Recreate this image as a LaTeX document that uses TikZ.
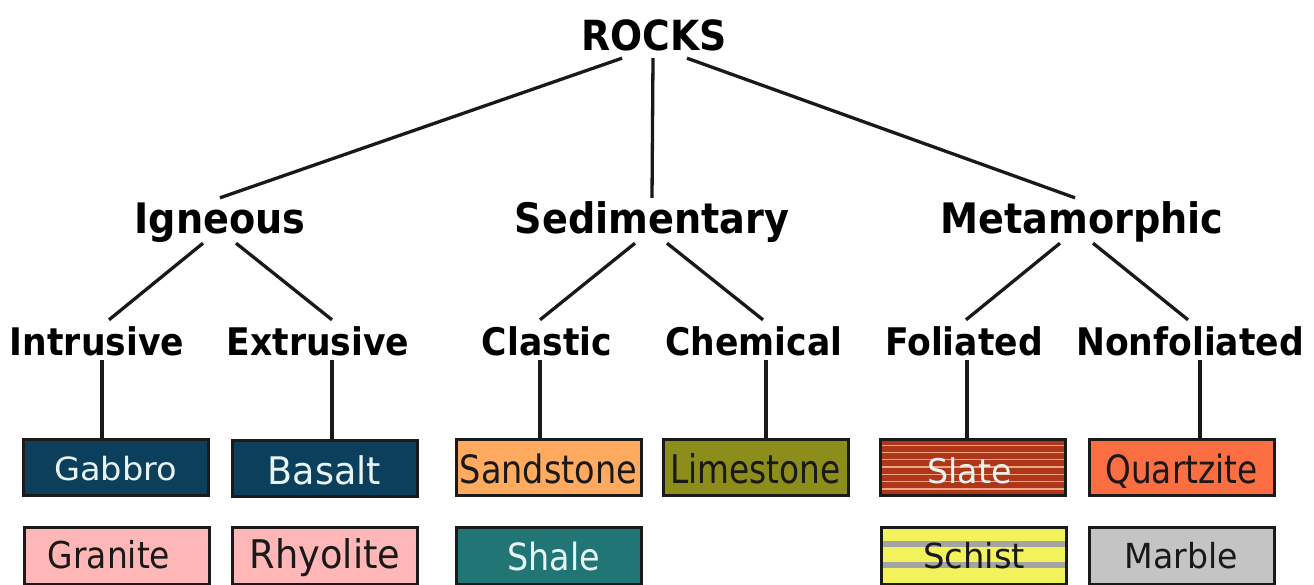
\documentclass[tikz,border=0pt]{standalone}
\usepackage{fontspec}
\usepackage{graphicx}
\setmainfont{DejaVu Sans}
\newfontfamily\labfont[FakeStretch=0.91]{DejaVu Sans}
\usetikzlibrary{calc}
\definecolor{navy}{HTML}{0B3F5C}
\definecolor{lighttxt}{HTML}{E8F4F4}
\definecolor{pinkc}{HTML}{FFB6B6}
\definecolor{sandc}{HTML}{FFAA5F}
\definecolor{limec}{HTML}{8D8D1C}
\definecolor{shalec}{HTML}{217575}
\definecolor{slatec}{HTML}{B0361A}
\definecolor{slatestripe}{HTML}{F2A582}
\definecolor{quartzc}{HTML}{FA6E42}
\definecolor{schistc}{HTML}{F2F25A}
\definecolor{schistband}{HTML}{A4A4A4}
\definecolor{marblec}{HTML}{C4C4C4}
\definecolor{edgec}{HTML}{1A1A1A}
\newcommand{\rockname}[3]{\fontsize{#1}{#1}\selectfont\scalebox{#2}[1]{#3}}
\begin{document}
\begin{tikzpicture}[x=1pt,y=-1pt,
  conn/.style={line width=3.3pt, draw=black!90},
  toplabel/.style={font=\labfont\bfseries\fontsize{41.5}{41.5}\selectfont, inner sep=0pt, anchor=base, text height=0pt, text depth=8pt},
  lvltwo/.style={font=\labfont\bfseries\fontsize{42}{42}\selectfont, inner sep=0pt, anchor=base, text height=35pt, text depth=10pt},
  lvlthree/.style={font=\labfont\bfseries\fontsize{38}{38}\selectfont, inner sep=0pt, anchor=base, text height=35pt, text depth=5pt},
  rockbox/.style={draw=edgec, line width=3pt, minimum width=185pt, minimum height=56pt, inner sep=0pt,
    text depth=0pt},
  rowtwo/.style={minimum height=57pt},
  darkbox/.style={rockbox, fill=#1, text=lighttxt},
  litebox/.style={rockbox, fill=#1, text=black!90},
]
\useasboundingbox (0,0) rectangle (1314,584);

% labels
\node[toplabel] (rocks) at (654,50) {ROCKS};
\node[lvltwo] (igneous) at (220,233) {Igneous};
\node[lvltwo] (sedim) at (652,233) {Sedimentary};
\node[lvltwo] (metam) at (1082,233) {Metamorphic};
\node[lvlthree] (intr) at (97,355) {Intrusive};
\node[lvlthree] (extr) at (318,355) {Extrusive};
\node[lvlthree] (clas) at (547,355) {Clastic};
\node[lvlthree] (chem) at (754,355) {Chemical};
\node[lvlthree] (foli) at (964,355) {Foliated};
\node[lvlthree] (nonf) at (1190,355) {Nonfoliated};

% boxes row 1
\node[darkbox=navy, text height=27pt] (gabbro) at (115.5,467) {\rockname{32}{1.05}{Gabbro}};
\node[darkbox=navy, text height=33pt] (basalt) at (324.5,468) {\rockname{38}{0.96}{Basalt}};
\node[litebox=sandc, text height=31pt] (sand) at (548.5,467.5) {\rockname{39}{0.86}{Sandstone}};
\node[litebox=limec, text height=31pt] (lime) at (755.5,467.5) {\rockname{39.5}{0.83}{Limestone}};
\node[rockbox, fill=slatec, text=lighttxt, text height=31pt,
  path picture={\foreach \k in {-3,...,3}{\draw[slatestripe, line width=1.2pt]
     ($(path picture bounding box.west)+(0,7.3*\k-0.5)$) -- ($(path picture bounding box.east)+(0,7.3*\k-0.5)$);}}]
  (slate) at (973,467.5) {\rockname{34}{0.98}{Slate}\hspace*{7pt}};
\node[litebox=quartzc, text height=31pt] (quartz) at (1181.5,467.5) {\rockname{39}{0.84}{Quartzite}};

% boxes row 2
\node[litebox=pinkc, rowtwo, text height=24pt] (granite) at (117,556) {\rockname{37}{0.89}{Granite}\hspace*{16pt}};
\node[litebox=pinkc, rowtwo, text height=24pt] (rhyo) at (325,556) {\rockname{39.5}{0.93}{Rhyolite}};
\node[darkbox=shalec, rowtwo, text height=28pt] (shale) at (548.5,556) {\hspace*{10pt}\rockname{37.5}{0.89}{Shale}};
\node[rockbox, rowtwo, fill=schistc, text=black!90, text height=24pt,
  path picture={\fill[schistband] ($(path picture bounding box.west)+(0,-15)$) rectangle ($(path picture bounding box.east)+(0,-9)$);
                \fill[schistband] ($(path picture bounding box.west)+(0,6)$) rectangle ($(path picture bounding box.east)+(0,12)$);}]
  (schist) at (974,556) {\rockname{34.5}{0.98}{Schist}};
\node[litebox=marblec, rowtwo, text height=24pt] (marble) at (1181.5,556) {\rockname{34.5}{0.96}{Marble}};

% connectors level 1
\draw[conn] ($(rocks.south)+(-32,0)$) -- (igneous.north);
\draw[conn] ($(rocks.south)+(-1,0)$) -- (sedim.north);
\draw[conn] ($(rocks.south)+(33,0)$) -- ($(metam.north)+(-7,0)$);

% connectors level 2
\draw[conn] ($(igneous.south)+(-17,0)$) -- ($(intr.north)+(12,0)$);
\draw[conn] ($(igneous.south)+(16,0)$) -- ($(extr.north)+(14,0)$);
\draw[conn] ($(sedim.south)+(-17,0)$) -- ($(clas.north)+(-7,0)$);
\draw[conn] ($(sedim.south)+(15,0)$) -- ($(chem.north)+(9,0)$);
\draw[conn] ($(metam.south)+(-22,0)$) -- ($(foli.north)+(2,0)$);
\draw[conn] ($(metam.south)+(11,0)$) -- ($(nonf.north)+(-2,0)$);

% connectors to boxes
\draw[conn] (intr.south) ++(5,0) coordinate (t1) -- (t1 |- gabbro.north);
\draw[conn] (extr.south) ++(14,0) coordinate (t2) -- (t2 |- basalt.north);
\draw[conn] (clas.south) ++(-7,0) coordinate (t3) -- (t3 |- sand.north);
\draw[conn] (chem.south) ++(12,0) coordinate (t4) -- (t4 |- lime.north);
\draw[conn] (foli.south) ++(3,0) coordinate (t5) -- (t5 |- slate.north);
\draw[conn] (nonf.south) ++(10,0) coordinate (t6) -- (t6 |- quartz.north);
\end{tikzpicture}
\end{document}
